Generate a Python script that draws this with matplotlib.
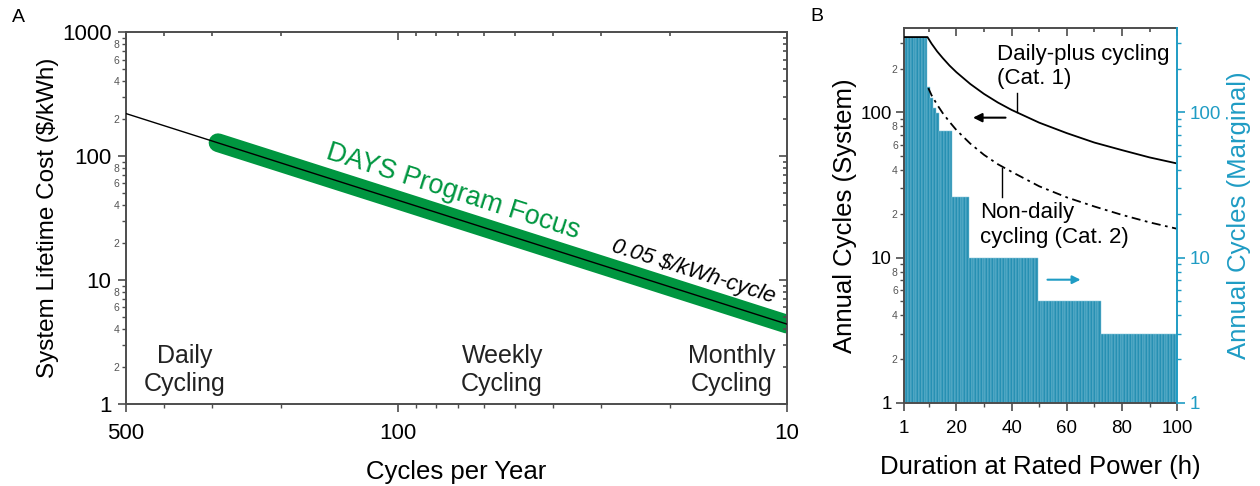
import numpy as np
import matplotlib
matplotlib.use('Agg')
import matplotlib.pyplot as plt
from matplotlib.ticker import FixedLocator, FuncFormatter, NullFormatter

plt.rcParams['font.family'] = ['Liberation Sans', 'DejaVu Sans']

# ---- panel A data ----
line_cycles = [500, 10]
line_cost = [220, 4.4]
focus_cycles = [290, 10]
focus_cost = [128, 4.4]
a_xticks = [500, 100, 10]
a_xminor = [400, 300, 200, 90, 80, 70, 60, 50, 40, 30, 20]
a_yticks = [1, 10, 100, 1000]
cycling_labels = ['Daily\nCycling', 'Weekly\nCycling', 'Monthly\nCycling']

# ---- panel B data ----
step_first = [1, 10, 11, 12, 13, 14, 19, 25, 50, 73]
step_last = [9, 10, 11, 12, 13, 18, 24, 49, 72, 100]
step_cycles = [330, 149, 125, 108, 99, 75, 26, 10, 5, 3]
cat1_hours = [1, 9.5, 11, 13, 15, 17.5, 20, 25, 30, 35, 40, 50, 60, 70, 80, 90, 100]
cat1_cycles = [330, 330, 297, 263, 237, 210, 189, 157, 134, 117, 104, 85, 72, 62, 55, 49, 44.5]
cat2_hours = [9.8, 11, 13, 15, 17.5, 20, 25, 30, 35, 40, 50, 60, 70, 80, 90, 100]
cat2_cycles = [147, 131, 113, 99, 86, 75.5, 61, 51, 44, 39, 31, 26, 22.5, 19.7, 17.5, 15.8]
b_xticks = [1, 20, 40, 60, 80, 100]
b_xminor = [10, 30, 50, 70, 90]
b_yticks = [1, 10, 100]

green = '#009640'
teal = '#1f9cc4'
bar_col = '#2790b3'
spine_col = '#4d4d4d'


def log_minor(lo, hi):
    out = []
    for dec in [1, 10, 100, 1000]:
        for m in range(2, 10):
            if lo < m * dec < hi:
                out.append(m * dec)
    return out


def minor_fmt(v, pos):
    d = int(round(v / 10 ** np.floor(np.log10(v))))
    return str(d) if d in (2, 4, 6, 8) else ''


def style_spines(ax, color=spine_col):
    for s in ax.spines.values():
        s.set_color(color)
        s.set_linewidth(1.4)


fig = plt.figure(figsize=(12.6, 4.86), dpi=100)

# ================= panel A =================
axA = fig.add_axes([0.1, 0.169, 0.5246, 0.765])
axA.set_xscale('log')
axA.set_yscale('log')
axA.set_xlim(500, 10)
axA.set_ylim(1, 1000)

axA.plot(focus_cycles, focus_cost, color=green, lw=13.5, solid_capstyle='round', zorder=2)
axA.plot(line_cycles, line_cost, color='k', lw=1.0, zorder=3)

# text angle along the line
p = axA.transData.transform(list(zip(line_cycles, line_cost)))
ang = np.degrees(np.arctan2(p[1, 1] - p[0, 1], p[1, 0] - p[0, 0]))

axA.text(0.495, 0.57, 'DAYS Program Focus', transform=axA.transAxes, color=green,
         fontsize=19.5, rotation=ang, rotation_mode='anchor', ha='center', va='center')
axA.text(0.858, 0.355, '0.05 $/kWh-cycle', transform=axA.transAxes, color='k',
         fontsize=16, fontstyle='italic', rotation=ang, rotation_mode='anchor',
         ha='center', va='center')

axA.text(0.089, 0.091, cycling_labels[0], transform=axA.transAxes, fontsize=18,
         ha='center', va='center', color='#222')
axA.text(0.569, 0.091, cycling_labels[1], transform=axA.transAxes, fontsize=18,
         ha='center', va='center', color='#222')
axA.text(0.983, 0.091, cycling_labels[2], transform=axA.transAxes, fontsize=18,
         ha='right', va='center', color='#222', multialignment='center')

axA.xaxis.set_major_locator(FixedLocator(a_xticks))
axA.xaxis.set_major_formatter(FuncFormatter(lambda v, p: '%d' % v))
axA.xaxis.set_minor_locator(FixedLocator(a_xminor))
axA.xaxis.set_minor_formatter(NullFormatter())
axA.yaxis.set_major_locator(FixedLocator(a_yticks))
axA.yaxis.set_major_formatter(FuncFormatter(lambda v, p: '%d' % v))
axA.yaxis.set_minor_locator(FixedLocator(log_minor(1, 1000)))
axA.yaxis.set_minor_formatter(FuncFormatter(minor_fmt))
axA.tick_params(which='major', direction='out', length=5.5, width=1.2, color=spine_col,
                labelsize=16, pad=5)
axA.tick_params(axis='x', which='major', pad=8)
axA.tick_params(which='minor', direction='out', length=3, width=1.0, color=spine_col)
axA.tick_params(axis='y', which='minor', labelsize=7.5, labelcolor='#555', pad=1.5)
style_spines(axA)
axA.set_xlabel('Cycles per Year', fontsize=18.5, labelpad=12)
axA.set_ylabel('System Lifetime Cost ($/kWh)', fontsize=17.5, labelpad=2)

# mirrored inward ticks on top / right
axAt = axA.twiny()
axAt.set_xscale('log')
axAt.set_xlim(500, 10)
axAt.xaxis.set_major_locator(FixedLocator(a_xticks))
axAt.xaxis.set_minor_locator(FixedLocator(a_xminor))
axAt.tick_params(which='both', direction='in', labeltop=False, color=spine_col, width=1.2)
axAt.tick_params(which='major', length=5.5)
axAt.tick_params(which='minor', length=3)
axAr = axA.twinx()
axAr.set_yscale('log')
axAr.set_ylim(1, 1000)
axAr.yaxis.set_major_locator(FixedLocator(a_yticks))
axAr.yaxis.set_minor_locator(FixedLocator(log_minor(1, 1000)))
axAr.tick_params(which='both', direction='in', labelright=False, color=spine_col, width=1.2)
axAr.tick_params(which='major', length=5.5)
axAr.tick_params(which='minor', length=3)
for t in (axAt, axAr):
    for s in t.spines.values():
        s.set_visible(False)

# ================= panel B =================
axB = fig.add_axes([0.7175, 0.171, 0.2167, 0.771])
axB.set_yscale('log')
axB.set_xlim(1, 100)
axB.set_ylim(1, 380)

counts = [b - a + 1 for a, b in zip(step_first, step_last)]
hours = np.arange(step_first[0], step_last[-1] + 1)
marginal = np.repeat(step_cycles, counts)
axB.bar(hours, marginal, width=1.0, color=bar_col, edgecolor='#86c6dc', linewidth=0.35, zorder=1)

axB.plot(cat1_hours, cat1_cycles, color='k', lw=1.3, zorder=3)
axB.plot(cat2_hours, cat2_cycles, color='k', lw=1.3, linestyle=(0, (5, 2.5, 1.5, 2.5)), zorder=3)

axB.text(34.8, 206, 'Daily-plus cycling\n(Cat. 1)', ha='left', va='center', fontsize=16)
axB.plot([42, 42], [100, 135], color='k', lw=1)
axB.annotate('', xy=(25, 92), xytext=(38.8, 92),
             arrowprops=dict(arrowstyle='-|>', color='k', lw=1.5, mutation_scale=13))
axB.text(28.6, 16.8, 'Non-daily\ncycling (Cat. 2)', ha='left', va='center', fontsize=16)
axB.plot([36.6, 36.6], [26, 41.5], color='k', lw=1)
axB.annotate('', xy=(66, 7.05), xytext=(52, 7.05),
             arrowprops=dict(arrowstyle='-|>', color=teal, lw=1.5, mutation_scale=12))

axB.xaxis.set_major_locator(FixedLocator(b_xticks))
axB.xaxis.set_minor_locator(FixedLocator(b_xminor))
axB.yaxis.set_major_locator(FixedLocator(b_yticks))
axB.yaxis.set_major_formatter(FuncFormatter(lambda v, p: '%d' % v))
axB.yaxis.set_minor_locator(FixedLocator(log_minor(1, 380)))
axB.yaxis.set_minor_formatter(FuncFormatter(minor_fmt))
axB.tick_params(which='major', direction='out', length=6, width=1.2, color=spine_col,
                labelsize=13.5, pad=3)
axB.tick_params(axis='x', which='major', pad=6)
axB.tick_params(which='minor', direction='out', length=3, width=1.0, color=spine_col)
axB.tick_params(axis='y', which='minor', labelsize=7.5, labelcolor='#555', pad=1.5)
style_spines(axB)
axB.spines['right'].set_visible(False)
axB.set_xlabel('Duration at Rated Power (h)', fontsize=18.5, labelpad=13)
axB.set_ylabel('Annual Cycles (System)', fontsize=18.5, labelpad=2)

axBt = axB.twiny()
axBt.set_xlim(1, 100)
axBt.xaxis.set_major_locator(FixedLocator(b_xticks))
axBt.xaxis.set_minor_locator(FixedLocator(b_xminor))
axBt.tick_params(which='both', direction='in', labeltop=False, color=spine_col, width=1.2)
axBt.tick_params(which='major', length=6)
axBt.tick_params(which='minor', length=3)
for s in axBt.spines.values():
    s.set_visible(False)

axBr = axB.twinx()
axBr.set_yscale('log')
axBr.set_ylim(1, 380)
axBr.yaxis.set_major_locator(FixedLocator(b_yticks))
axBr.yaxis.set_major_formatter(FuncFormatter(lambda v, p: '%d' % v))
axBr.yaxis.set_minor_locator(FixedLocator(log_minor(1, 380)))
axBr.yaxis.set_minor_formatter(NullFormatter())
axBr.tick_params(which='major', direction='out', length=6, width=1.2, color=teal,
                 labelcolor=teal, labelsize=13.5, pad=3)
axBr.tick_params(which='minor', direction='out', length=3, width=1.0, color=teal)
for k, s in axBr.spines.items():
    s.set_visible(k == 'right')
axBr.spines['right'].set_color(teal)
axBr.spines['right'].set_linewidth(1.4)
axBr.set_ylabel('Annual Cycles (Marginal)', fontsize=18.5, color=teal, labelpad=4)

fig.text(0.015, 0.965, 'A', fontsize=14, ha='center', va='center')
fig.text(0.648, 0.967, 'B', fontsize=14, ha='center', va='center')

fig.savefig('out.png', dpi=100)
